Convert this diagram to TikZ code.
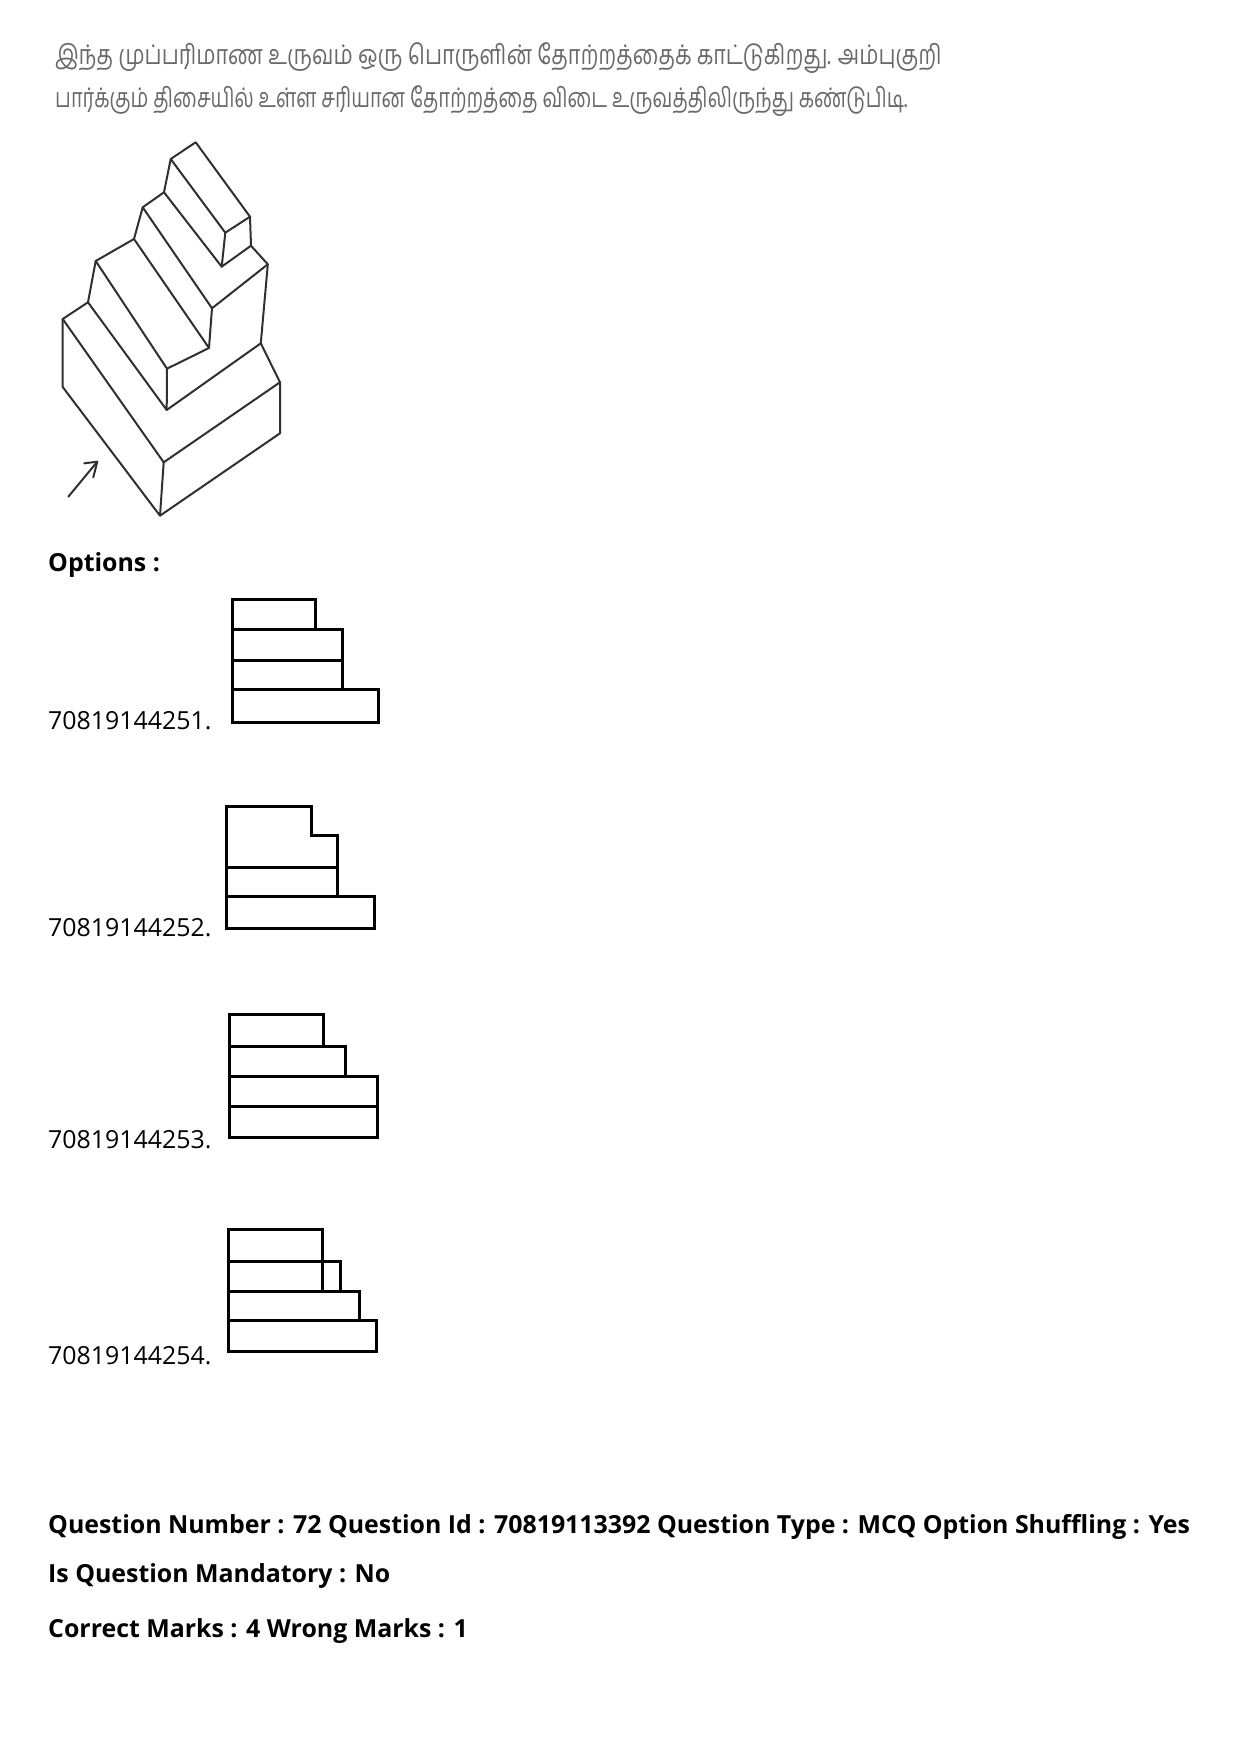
\documentclass[tikz,border=0pt]{standalone}
\usepackage{fontspec}
\setmainfont{Open Sans}
\newfontfamily\tamilfont[Script=Tamil]{Hind Madurai}
\definecolor{qgray}{HTML}{696969}
\definecolor{solidgray}{HTML}{303030}
\begin{document}
\begin{tikzpicture}[x=1pt, y=-1pt,
    qtext/.style={anchor=base west, inner sep=0pt, text=qgray, font=\tamilfont\fontsize{27}{32}\selectfont},
    optlabel/.style={anchor=base west, inner sep=0pt, font=\fontsize{24.9}{30}\selectfont},
    headlabel/.style={anchor=base west, inner sep=0pt, font=\bfseries\fontsize{24.9}{30}\selectfont},
    solidline/.style={solidgray, line width=2pt, line cap=round, line join=round},
    optline/.style={black, line width=3pt, line join=miter}]
    \useasboundingbox (0,0) rectangle (1240,1755);

    % Question text
    \node[qtext] (qone) at (55,65) {\scalebox{0.798}[1]{இந்த முப்பரிமாண உருவம் ஒரு பொருளின் தோற்றத்தைக் காட்டுகிறது. அம்புகுறி}};
    \node[qtext] (qtwo) at (55,108) {\scalebox{0.74}[1]{பார்க்கும் திசையில் உள்ள சரியான தோற்றத்தை விடை உருவத்திலிருந்து கண்டுபிடி.}};

    % Solid: top block
    \draw[solidline] (170.7,159) -- (195.7,142.3) -- (250,216.7) -- (225.3,232.7) -- (170.7,159);
    \draw[solidline] (225.3,232.7) -- (221.7,266.7) -- (251,245.7) -- (250,216.7);
    \draw[solidline] (170.7,159) -- (164,192.3) -- (221.7,266.7);

    % Solid: middle steps
    \draw[solidline] (164,192.3) -- (142.7,207.3) -- (212,308.3) -- (267.8,264.3) -- (251,245.7);
    \draw[solidline] (142.7,207.3) -- (134,239) -- (209,348) -- (212,308.3);
    \draw[solidline] (134,239) -- (95.7,261) -- (167,368.7) -- (209,348);
    \draw[solidline] (95.7,261) -- (88,302.3) -- (166.7,410) -- (167,368.7);
    \draw[solidline] (166.7,410) -- (260.8,343.3) -- (267.8,264.3);

    % Solid: base block
    \draw[solidline] (88,302.3) -- (62.7,319) -- (163.7,462.3) -- (280,382.3) -- (260.8,343.3);
    \draw[solidline] (62.7,319) -- (62.7,387) -- (160,515.7) -- (280,433.3) -- (280,382.3);
    \draw[solidline] (163.7,462.3) -- (160,515.7);

    % Viewing arrow
    \draw[solidline] (68.3,496.7) -- (97.3,461.7);
    \draw[solidline] (84.3,463.3) -- (97.3,461.7) -- (93.3,477.3);

    % Options heading
    \node[headlabel] (opthead) at (48,571) {Options :};

    % Option 1
    \node[optlabel] (optone) at (48,729) {70819144251.};
    \draw[optline] (232,599) rectangle (315.7,629);
    \draw[optline] (232,629) rectangle (342.3,660.3);
    \draw[optline] (232,660.3) rectangle (342.3,689.7);
    \draw[optline] (232,689.7) rectangle (378.7,722);

    % Option 2
    \node[optlabel] (opttwo) at (48,936) {70819144252.};
    \draw[optline] (226.3,867) -- (226.3,806) -- (311,806) -- (311,835.7) -- (337.8,835.7) -- (337.8,867) -- cycle;
    \draw[optline] (226.3,867) rectangle (337.8,896.7);
    \draw[optline] (226.3,896.7) rectangle (374,928.7);

    % Option 3
    \node[optlabel] (optthree) at (48,1148) {70819144253.};
    \draw[optline] (229.3,1014.7) rectangle (323.7,1046);
    \draw[optline] (229.3,1046) rectangle (345.7,1076);
    \draw[optline] (229.3,1076) rectangle (377.3,1106);
    \draw[optline] (229.3,1106) rectangle (377.3,1137);

    % Option 4
    \node[optlabel] (optfour) at (48,1364) {70819144254.};
    \draw[optline] (228.3,1229.3) rectangle (322.3,1261);
    \draw[optline] (228.3,1261) rectangle (340,1291);
    \draw[optline] (322.3,1261) -- (322.3,1291);
    \draw[optline] (228.3,1291) rectangle (359,1320.7);
    \draw[optline] (228.3,1320.7) rectangle (376.3,1351.3);

    % Footer
    \node[headlabel] (qnumber) at (48,1533) {Question Number : 72 Question Id : 70819113392 Question Type : MCQ Option Shuffling : Yes};
    \node[headlabel] (qmand) at (48,1582) {Is Question Mandatory : No};
    \node[headlabel] (qmarks) at (48,1637) {Correct Marks : 4 Wrong Marks : 1};
\end{tikzpicture}
\end{document}
